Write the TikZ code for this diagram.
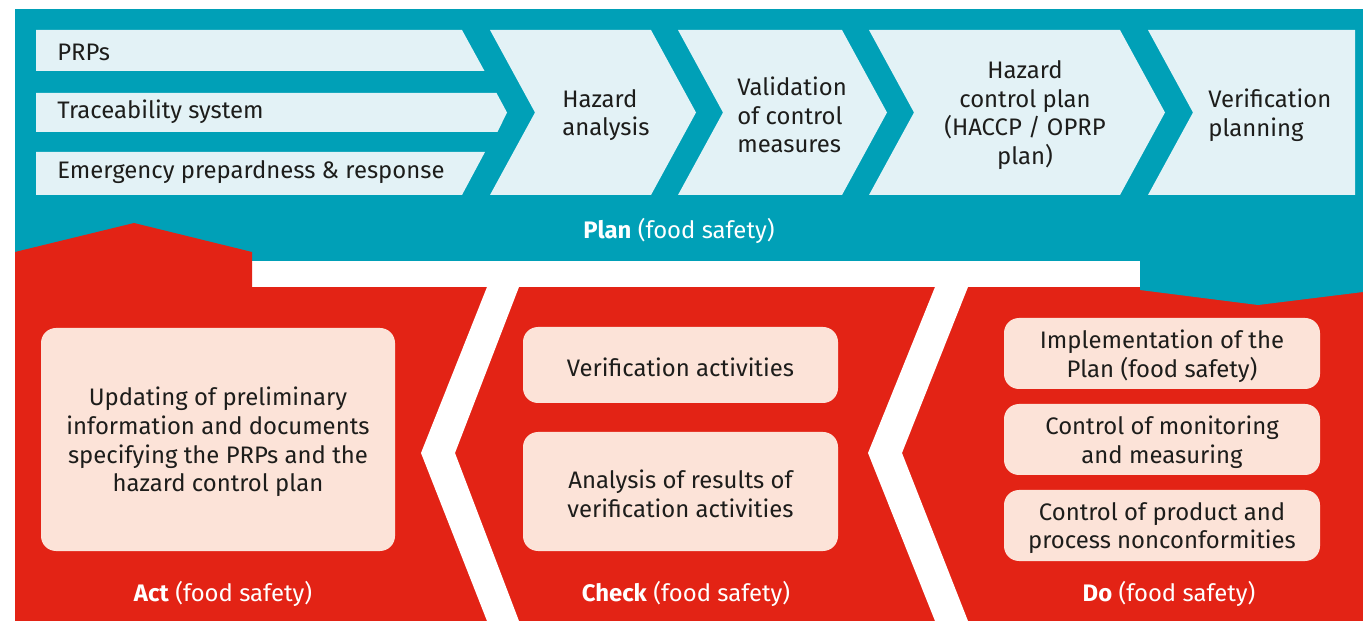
\documentclass[tikz,border=0pt]{standalone}
\usepackage{fontspec}
\setmainfont{Fira Sans}
\usetikzlibrary{calc}

\definecolor{planteal}{RGB}{0,160,183}
\definecolor{planlight}{RGB}{227,242,246}
\definecolor{dored}{RGB}{227,35,21}
\definecolor{boxpink}{RGB}{252,227,216}
\definecolor{textdark}{RGB}{29,29,27}

\tikzset{
    chevtext/.style={text=textdark, align=left, inner sep=0pt, font=\fontsize{13.6}{16.4}\selectfont},
    boxtext/.style={text=textdark, align=center, inner sep=0pt, font=\fontsize{13.6}{16.4}\selectfont},
    phasetext/.style={text=white, inner sep=0pt, font=\fontsize{13.6}{16.4}\selectfont},
    pinkbox/.style={fill=boxpink, rounded corners=0.3cm},
}

\begin{document}
\begin{tikzpicture}[x=0.02cm, y=-0.02cm]
        \useasboundingbox (0,0) rectangle (1363,621);
        \pgfmathsetmacro{\chevtop}{30}
        \pgfmathsetmacro{\chevbottom}{195}
        \pgfmathsetmacro{\chevmiddle}{112.5}
        \pgfmathsetmacro{\chevdepth}{45}

        % background bands
        \fill[planteal] (15,9) rectangle (1363,261);
        \fill[dored] (15,287) -- (15,252) -- (134,223) -- (252,252) -- (252,287) -- cycle;
        \fill[dored] (15,287) rectangle (1363,621);
        \fill[planteal] (1140,261) -- (1363,261) -- (1363,292) -- (1258,305) -- (1140,290) -- cycle;
        \fill[white] (487,287) -- (519,287) -- (455,453) -- (519,621) -- (487,621) -- (421,453) -- cycle;
        \fill[white] (935,287) -- (968,287) -- (902,453) -- (968,621) -- (935,621) -- (868,453) -- cycle;

        % plan: input bars
        \begin{scope}
            \fill[planlight] (36,\chevtop) -- (462,\chevtop) -- (484.5,71) -- (36,71) -- cycle;
            \fill[planlight] (36,93) -- (496.5,93) -- (507,\chevmiddle) -- (497.5,132) -- (36,132) -- cycle;
            \fill[planlight] (36,152) -- (485,152) -- (462,\chevbottom) -- (36,\chevbottom) -- cycle;
            \node[chevtext, anchor=west] (prps) at (57,52) {PRPs};
            \node[chevtext, anchor=west] (trace) at (57,112) {Traceability system};
            \node[chevtext, anchor=west] (emerg) at (57,172) {Emergency prepardness \& response};
        \end{scope}

        % plan: chevrons
        \begin{scope}
            \foreach \xl/\xr in {490/651, 678/842, 869/1120}{
                \fill[planlight] (\xl,\chevtop) -- (\xr,\chevtop) -- (\xr+\chevdepth,\chevmiddle) -- (\xr,\chevbottom)
                    -- (\xl,\chevbottom) -- (\xl+\chevdepth,\chevmiddle) -- cycle;
            }
            \fill[planlight] (1148,\chevtop) -- (1355,\chevtop) -- (1355,\chevbottom) -- (1148,\chevbottom)
                -- (1148+\chevdepth,\chevmiddle) -- cycle;
            \node[chevtext, anchor=west] (hazan) at (562,115) {Hazard\\analysis};
            \node[chevtext, anchor=west] (valid) at (737,115) {Validation\\of control\\measures};
            \node[chevtext, align=center] (hcplan) at (1025,115) {Hazard\\control plan\\(HACCP / OPRP\\plan)};
            \node[chevtext, anchor=west] (verplan) at (1208,115) {Verification\\planning};
            \node[phasetext] (plan) at (679,231) {\textbf{Plan} (food safety)};
        \end{scope}

        % act
        \begin{scope}
            \fill[pinkbox] (41,328) rectangle (395,551);
            \node[boxtext] (update) at (218,442) {Updating of preliminary\\information and documents\\specifying the PRPs and the\\hazard control plan};
            \node[phasetext] (act) at (223,594) {\textbf{Act} (food safety)};
        \end{scope}

        % check
        \begin{scope}
            \fill[pinkbox] (523,327) rectangle (838,403);
            \fill[pinkbox] (523,432) rectangle (838,551);
            \node[boxtext] (veract) at (680.5,367) {Verification activities};
            \node[boxtext] (anaresult) at (680.5,494) {Analysis of results of\\verification activities};
            \node[phasetext] (check) at (686,594) {\textbf{Check} (food safety)};
        \end{scope}

        % do
        \begin{scope}
            \fill[pinkbox] (1004,318) rectangle (1320,389);
            \fill[pinkbox] (1004,404) rectangle (1320,475);
            \fill[pinkbox] (1004,490) rectangle (1320,561);
            \node[boxtext] (implement) at (1162,356) {Implementation of the\\Plan (food safety)};
            \node[boxtext] (monitor) at (1162,442) {Control of monitoring\\and measuring};
            \node[boxtext] (nonconf) at (1162,528) {Control of product and\\process nonconformities};
            \node[phasetext] (do) at (1169,594) {\textbf{Do} (food safety)};
        \end{scope}
    \end{tikzpicture}
\end{document}
